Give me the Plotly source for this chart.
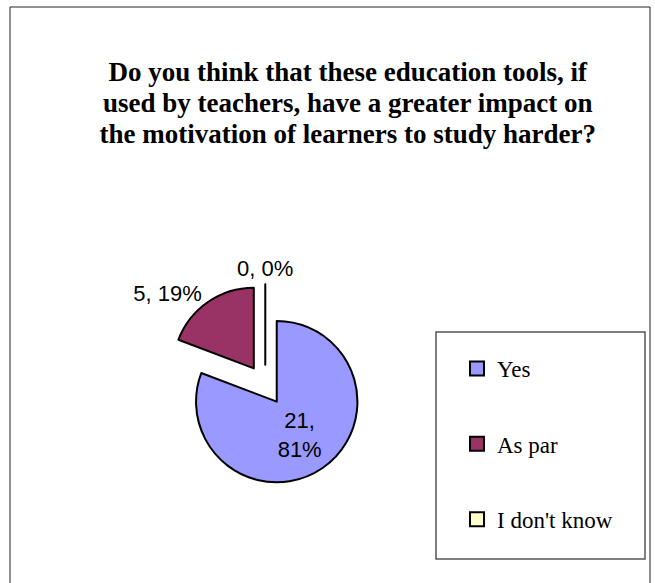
import plotly.graph_objects as go

categories = ["Yes", "As par", "I don't know"]
counts = [21, 5, 0]
colors = ["#9999FF", "#993366", "#FFFFCC"]
label_templates = ["%{value},<br>%{percent:.0%}", "%{value}, %{percent:.0%}", ""]
label_positions = ["inside", "outside", "none"]
title_lines = [
    "Do you think that these education tools, if",
    "used by teachers, have a greater impact on",
    "the motivation of learners to study harder?",
]

W, H = 655, 583
PULL = 0.25
DOM_X = [0.251, 0.559]
DOM_Y = [0.1664, 0.5128]

fig = go.Figure()

fig.add_trace(go.Pie(
    labels=categories,
    values=counts,
    sort=False,
    direction="clockwise",
    rotation=0,
    pull=[PULL] * len(categories),
    marker=dict(colors=colors, line=dict(color="black", width=2)),
    texttemplate=label_templates,
    textposition=label_positions,
    insidetextorientation="horizontal",
    textfont=dict(family="Liberation Sans, Arial", size=22, color="black"),
    showlegend=False,
    hoverinfo="label+value+percent",
    domain=dict(x=DOM_X, y=DOM_Y),
))

# label for the zero slice, which sits straight up at the start angle
total = sum(counts)
zero_idx = counts.index(0)
cx = (DOM_X[0] + DOM_X[1]) / 2
cy = (DOM_Y[0] + DOM_Y[1]) / 2
half_h = (DOM_Y[1] - DOM_Y[0]) / 2
top_edge = cy + half_h  # radius*(1+pull) reaches domain edge
annotations = [dict(
    x=cx, y=top_edge, xref="paper", yref="paper", xanchor="center", yanchor="bottom",
    text="%d, %d%%" % (counts[zero_idx], round(100 * counts[zero_idx] / total)),
    showarrow=False, yshift=1,
    font=dict(family="Liberation Sans, Arial", size=22, color="black"),
)]

# legend entries built from the same categories
for name, col in zip(categories, colors):
    fig.add_trace(go.Scatter(
        x=[None], y=[None], mode="markers", name=name, legendgroup=name,
        marker=dict(symbol="square", size=14, color=col, line=dict(color="black", width=2)),
        showlegend=True, hoverinfo="skip",
    ))

title_html = "<br>".join('<span style="font-size:27px">%s</span>' % t for t in title_lines)

fig.update_layout(
    width=W, height=H,
    margin=dict(l=0, r=0, t=0, b=0),
    paper_bgcolor="white", plot_bgcolor="white",
    title=dict(
        text=title_html,
        font=dict(family="Liberation Serif, Times New Roman", size=24, color="black", weight="bold"),
        x=0.531, xanchor="center", xref="paper",
        y=1 - 81 / H, yanchor="top", yref="container",
    ),
    xaxis=dict(visible=False), yaxis=dict(visible=False),
    legend=dict(
        x=457 / W, xanchor="left", y=1 - 347 / H, yanchor="top",
        traceorder="grouped", tracegroupgap=42.5,
        font=dict(family="Liberation Serif, Times New Roman", size=23, color="black"),
        bgcolor="rgba(0,0,0,0)", borderwidth=0,
    ),
    annotations=annotations,
    shapes=[
        dict(type="rect", xref="paper", yref="paper",
             x0=10 / W, x1=650 / W, y0=-0.1, y1=1 - 7 / H,
             line=dict(color="#222222", width=1)),
        dict(type="rect", xref="paper", yref="paper",
             x0=436 / W, x1=645 / W, y0=1 - 559 / H, y1=1 - 332 / H,
             line=dict(color="#555555", width=1.5)),
    ],
)

fig.write_html("out.html")
